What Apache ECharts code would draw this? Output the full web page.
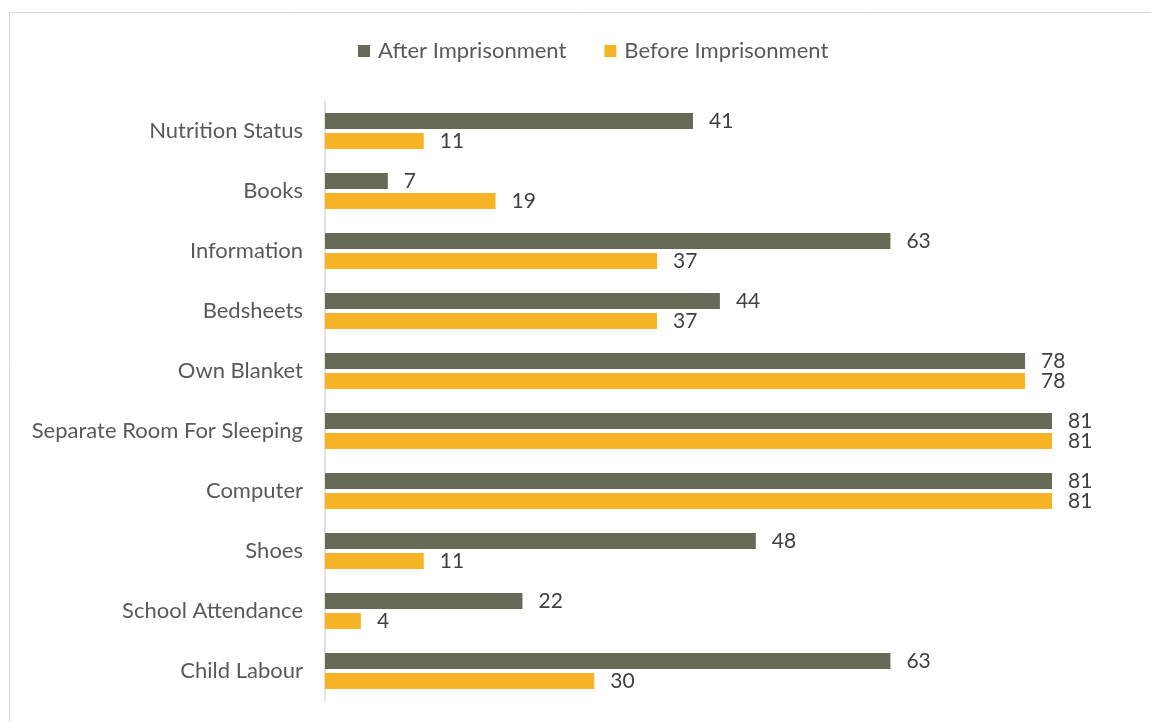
<!DOCTYPE html>
<html>
<head>
<meta charset="utf-8">
<script src="https://cdn.jsdelivr.net/npm/echarts@6/dist/echarts.min.js"></script>
<style>
  html, body { margin: 0; padding: 0; background: #fff; }
  #chart { width: 1151px; height: 722px; }
</style>
</head>
<body>
<div id="chart"></div>
<script>
// Categories listed top to bottom
const categories = [
  'Nutrition Status', 'Books', 'Information', 'Bedsheets', 'Own Blanket',
  'Separate Room For Sleeping', 'Computer', 'Shoes', 'School Attendance', 'Child Labour'
];
const afterImprisonment  = [41, 7, 63, 44, 78, 81, 81, 48, 22, 63];
const beforeImprisonment = [11, 19, 37, 37, 78, 81, 81, 11, 4, 30];
const seriesNames = ['After Imprisonment', 'Before Imprisonment'];

const FONT = 'Lato';
const chart = echarts.init(document.getElementById('chart'), null, { renderer: 'canvas' });

const labelStyle = {
  show: true,
  position: 'right',
  distance: 16,
  color: '#404040',
  fontFamily: FONT,
  fontSize: 21
};

chart.setOption({
  animation: false,
  graphic: [{
    type: 'rect',
    shape: { x: 9.5, y: 12.5, width: 1200, height: 800 },
    style: { fill: 'none', stroke: '#d9d9d9', lineWidth: 1 },
    silent: true
  }],
  legend: {
    top: 35,
    left: 353,
    itemWidth: 12,
    itemHeight: 12,
    itemGap: 38,
    icon: 'rect',
    textStyle: { fontFamily: FONT, fontSize: 22, color: '#595959', padding: [0, 0, 0, 3] },
    data: seriesNames
  },
  grid: { left: 325, right: 99, top: 101, bottom: 21, containLabel: false },
  xAxis: {
    type: 'value',
    min: 0,
    max: 81,
    show: false
  },
  yAxis: {
    type: 'category',
    data: categories,
    inverse: true,
    axisLine: { show: true, lineStyle: { color: '#d9d9d9', width: 1.5 } },
    axisTick: { show: false },
    axisLabel: { fontFamily: FONT, fontSize: 22, color: '#595959', margin: 22 }
  },
  series: [
    {
      name: seriesNames[0],
      type: 'bar',
      data: afterImprisonment,
      barWidth: 16,
      barGap: '25%',
      itemStyle: { color: '#686a58' },
      label: labelStyle
    },
    {
      name: seriesNames[1],
      type: 'bar',
      data: beforeImprisonment,
      barWidth: 16,
      itemStyle: { color: '#f6b325' },
      label: labelStyle
    }
  ]
});
</script>
</body>
</html>
